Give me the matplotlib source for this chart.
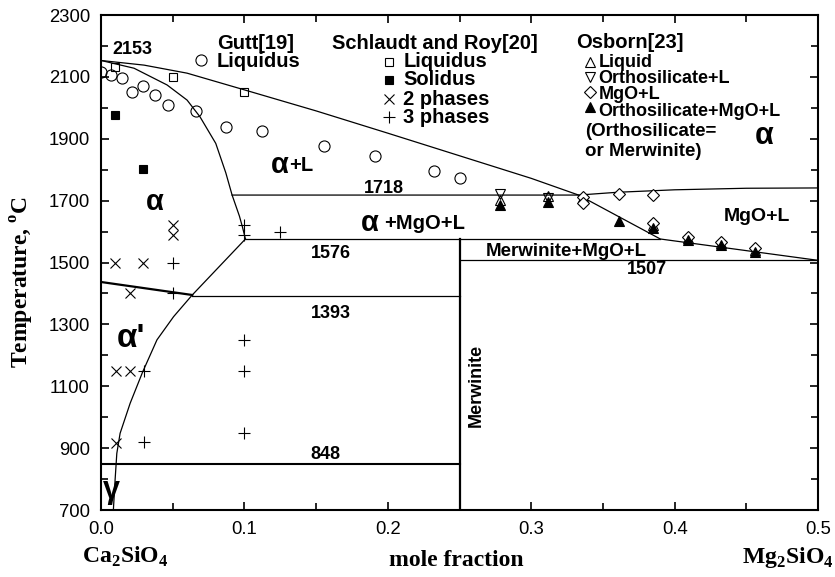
import numpy as np
import matplotlib.pyplot as plt

plt.rcParams['font.family'] = ['Liberation Sans', 'DejaVu Sans']
plt.rcParams['mathtext.fontset'] = 'custom'
plt.rcParams['mathtext.rm'] = 'Liberation Serif'
plt.rcParams['mathtext.bf'] = 'Liberation Serif:bold'

# --- phase boundaries: x = mole fraction Mg2SiO4, t = temperature (C) ---
liq_x = [0.0, 0.03, 0.06, 0.10, 0.15, 0.20, 0.25, 0.30, 0.333, 0.39, 0.5]
liq_t = [2153, 2138, 2112, 2058, 1990, 1918, 1845, 1772, 1718, 1576, 1507]

sol_x = [0.0, 0.023, 0.046, 0.06, 0.069, 0.080, 0.087, 0.0914, 0.0965, 0.0986, 0.1007]
sol_t = [2153, 2128, 2074, 2025, 1971, 1885, 1790, 1718, 1650, 1615, 1576]

mgo_x = [0.0914, 0.333, 0.36, 0.40, 0.45, 0.5]
mgo_t = [1718, 1718, 1727, 1735, 1740, 1741]

low_x = [0.1007, 0.0636]
low_t = [1576, 1395]

ap_x = [0.0636, 0.0506, 0.039, 0.029, 0.0203, 0.0133, 0.011, 0.0098, 0.0086]
ap_t = [1395, 1325, 1250, 1146, 1045, 948, 883, 797, 700]

tr_x = [0.0, 0.0636]
tr_t = [1437, 1395]

# invariant temperatures
T_eut = 1576
T_a = 1393
T_g = 848
T_mw = 1507
x_mw = 0.25

# --- Gutt[19] liquidus ---
gutt_x = [0.0, 0.007, 0.0145, 0.0217, 0.0296, 0.0373, 0.047, 0.066, 0.0874,
          0.1124, 0.1555, 0.191, 0.2325, 0.25]
gutt_t = [2117, 2106, 2097, 2052, 2071, 2041, 2009, 1990, 1939,
          1926, 1878, 1845, 1796, 1774]

# --- Schlaudt and Roy[20] ---
sr_liq_x = [0.0098, 0.05, 0.10]
sr_liq_t = [2133, 2101, 2050]
sr_sol_x = [0.0098, 0.0296]
sr_sol_t = [1977, 1801]
sr_two_x = [0.01, 0.0296, 0.05, 0.05, 0.0203, 0.0105, 0.0203, 0.0105]
sr_two_t = [1500, 1500, 1621, 1589, 1400, 1149, 1149, 916]
sr_three_x = [0.05, 0.10, 0.10, 0.125, 0.05, 0.03, 0.03, 0.10, 0.10, 0.10]
sr_three_t = [1500, 1620, 1590, 1600, 1400, 1150, 920, 1250, 1150, 950]

# --- Osborn[23] ---
os_liq_x = [0.278, 0.312, 0.336, 0.385, 0.409, 0.432, 0.456]
os_liq_t = [1702, 1714, 1712, 1622, 1578, 1562, 1540]
os_ol_x = [0.278, 0.312]
os_ol_t = [1720, 1708]
os_mgo_x = [0.336, 0.336, 0.361, 0.385, 0.385, 0.409, 0.432, 0.456]
os_mgo_t = [1713, 1693, 1720, 1718, 1627, 1583, 1567, 1546]
os_omgo_x = [0.278, 0.312, 0.361, 0.385, 0.409, 0.432, 0.456]
os_omgo_t = [1686, 1697, 1635, 1611, 1572, 1558, 1533]

fig = plt.figure(figsize=(8.35, 5.77), dpi=100)
ax = fig.add_axes([0.121, 0.1161, 0.8587, 0.8579])

k = dict(color='black', lw=0.9)
ax.plot(liq_x, liq_t, **k)
ax.plot(sol_x, sol_t, **k)
ax.plot(mgo_x, mgo_t, **k)
ax.plot(low_x, low_t, **k)
ax.plot(ap_x, ap_t, **k)
ax.plot(tr_x, tr_t, color='black', lw=1.6)
ax.plot([0.1007, 0.39], [T_eut, T_eut], **k)
ax.plot([0.0636, x_mw], [T_a, T_a], **k)
ax.plot([0.0, x_mw], [T_g, T_g], color='black', lw=1.5)
ax.plot([x_mw, 0.5], [T_mw, T_mw], **k)
ax.plot([x_mw, x_mw], [700, T_eut], color='black', lw=1.6)

m = dict(ls='none', color='black', mew=0.8)
ax.plot(gutt_x, gutt_t, marker='o', ms=8, mfc='none', **m)
ax.plot(sr_liq_x, sr_liq_t, marker='s', ms=6, mfc='none', **m)
ax.plot(sr_sol_x, sr_sol_t, marker='s', ms=6, **m)
ax.plot(sr_two_x, sr_two_t, marker='x', ms=7, **m)
ax.plot(sr_three_x, sr_three_t, marker='+', ms=8, **m)
ax.plot(os_liq_x, os_liq_t, marker='^', ms=7, mfc='none', **m)
ax.plot(os_ol_x, os_ol_t, marker='v', ms=7, mfc='none', **m)
ax.plot(os_mgo_x, os_mgo_t, marker='D', ms=6, mfc='white', **m)
ax.plot(os_omgo_x, os_omgo_t, marker='^', ms=7, **m)

# legend blocks
b = dict(fontsize=14.5, fontweight='bold', va='center')
ax.text(0.0809, 2208, 'Gutt[19]', **b)
ax.plot([0.07], [2154], marker='o', ms=8, mfc='none', **m)
ax.text(0.0809, 2149, 'Liquidus', **b)

ax.text(0.1608, 2208, 'Schlaudt and Roy[20]', **b)
sr_labels = ['Liquidus', 'Solidus', '2 phases', '3 phases']
sr_rows = [2149, 2090, 2028, 1969]
sr_marks = [('s', 'none', 6), ('s', 'black', 6), ('x', 'black', 7), ('+', 'black', 8)]
for lab, t, (mk, fc, s) in zip(sr_labels, sr_rows, sr_marks):
    ax.plot([0.2005], [t], marker=mk, mfc=fc, ms=s, **m)
    ax.text(0.2107, t, lab, **b)

ax.text(0.3315, 2212, 'Osborn[23]', **b)
os_labels = ['Liquid', 'Orthosilicate+L', 'MgO+L', 'Orthosilicate+MgO+L']
os_rows = [2149, 2100, 2051, 2002]
os_marks = [('^', 'none', 7), ('v', 'none', 7), ('D', 'none', 6), ('^', 'black', 7)]
for t, (mk, fc, s) in zip(os_rows, os_marks):
    ax.plot([0.3413], [t], marker=mk, mfc=fc, ms=s, **m)
ax.text(0.3468, np.mean(os_rows) - 7, '\n'.join(os_labels), fontsize=13,
        fontweight='bold', va='center', linespacing=0.95)
ax.text(0.3373, 1890, '(Orthosilicate=\nor Merwinite)', fontsize=13.5,
        fontweight='bold', va='center', linespacing=1.22)
ax.text(0.4624, 1910, 'α', fontsize=22, fontweight='bold', ha='center', va='center')

# region labels
n = dict(fontsize=13, fontweight='bold', ha='center', va='center')
ax.text(0.008, 2187, '2153', fontsize=13, fontweight='bold', va='center')
ax.text(0.1974, 1740, '1718', **n)
ax.text(0.160, 1530, '1576', **n)
ax.text(0.1605, 1336, '1393', **n)
ax.text(0.1564, 878, '848', **n)
ax.text(0.3804, 1476, '1507', **n)

ga = dict(fontweight='bold', va='center')
ax.text(0.0378, 1697, 'α', fontsize=21, ha='center', **ga)
ax.text(0.1186, 1815, 'α', fontsize=21, **ga)
ax.text(0.1310, 1812, '+L', **b)
ax.text(0.1810, 1627, 'α', fontsize=21, **ga)
ax.text(0.1976, 1627, '+MgO+L', **b)
ax.text(0.2685, 1535, 'Merwinite+MgO+L', fontsize=13.5, fontweight='bold', va='center')
ax.text(0.4573, 1648, 'MgO+L', fontsize=14, fontweight='bold', ha='center', va='center')
ax.text(0.2615, 1104, 'Merwinite', fontsize=13, fontweight='bold', rotation=90,
        ha='center', va='center')
ax.text(0.011, 1255, "α'", fontsize=24, **ga)
ax.text(0.007, 765, 'γ', fontsize=22, ha='center', **ga)

ax.set_xlim(0, 0.5)
ax.set_ylim(700, 2300)
ax.set_xticks(np.arange(0, 0.51, 0.1))
ax.set_xticks(np.arange(0, 0.51, 0.05), minor=True)
ax.set_yticks(np.arange(700, 2301, 200))
ax.set_yticks(np.arange(700, 2301, 100), minor=True)
ax.set_xticklabels(['0.0', '0.1', '0.2', '0.3', '0.4', '0.5'])
ax.tick_params(which='both', direction='in', top=True, right=True, width=1.2,
               labelsize=13.3, pad=8)
ax.tick_params(which='major', length=6)
ax.tick_params(which='minor', length=5)
for s in ax.spines.values():
    s.set_linewidth(1.5)

sf = dict(fontsize=17, fontweight='bold', family='Liberation Serif')
fig.text(125 / 835, 1 - 557 / 577, r'Ca$_\mathbf{2}$SiO$_\mathbf{4}$', ha='center', va='center', **sf)
fig.text(456 / 835, 1 - 560 / 577, 'mole fraction', ha='center', va='center', **sf)
fig.text(788 / 835, 1 - 558 / 577, r'Mg$_\mathbf{2}$SiO$_\mathbf{4}$', ha='center', va='center', **sf)
fig.text(22 / 835, 1 - 282 / 577, r'Temperature, $^\mathbf{o}$C', rotation=90,
         ha='center', va='center', **sf)

fig.savefig('out.png', dpi=100)
